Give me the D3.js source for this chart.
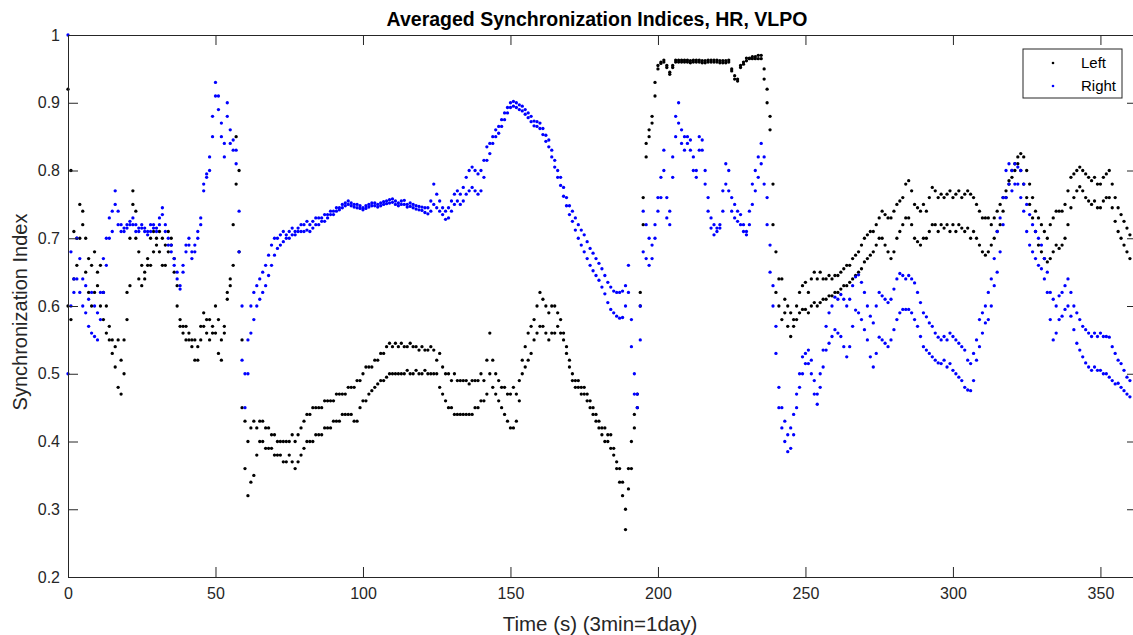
<!DOCTYPE html>
<html>
<head>
<meta charset="utf-8">
<script src="https://cdn.jsdelivr.net/npm/d3@7"></script>
<style>
  body { margin: 0; background: #fff; }
  text { font-family: "Liberation Sans", Arial, sans-serif; }
</style>
</head>
<body>
<svg id="chart" width="1133" height="635"></svg>
<script>
// sample times (s), one reading per second
const time = d3.range(0, 361);

const xTicks = [0, 50, 100, 150, 200, 250, 300, 350];
const yTicks = [0.2, 0.3, 0.4, 0.5, 0.6, 0.7, 0.8, 0.9, 1];

// Left hemisphere, two averaged traces
const leftA = [
  0.92,0.80,0.71,0.70,0.75,0.74,0.70,0.67,0.66,0.68,
  0.65,0.66,0.62,0.60,0.57,0.55,0.54,0.55,0.52,0.55,
  0.62,0.70,0.77,0.74,0.68,0.66,0.64,0.66,0.70,0.71,
  0.70,0.71,0.70,0.69,0.71,0.70,0.67,0.63,0.58,0.57,
  0.57,0.56,0.55,0.55,0.54,0.57,0.59,0.58,0.58,0.57,
  0.60,0.58,0.55,0.57,0.62,0.64,0.72,0.85,0.80,0.55,
  0.43,0.40,0.42,0.43,0.42,0.43,0.43,0.42,0.42,0.41,
  0.41,0.40,0.40,0.40,0.40,0.40,0.41,0.40,0.41,0.42,
  0.43,0.44,0.44,0.45,0.45,0.45,0.45,0.46,0.46,0.46,
  0.46,0.47,0.47,0.47,0.47,0.48,0.48,0.48,0.49,0.49,
  0.50,0.51,0.51,0.51,0.52,0.52,0.53,0.53,0.54,0.545,
  0.54,0.545,0.54,0.545,0.54,0.54,0.545,0.54,0.54,0.535,
  0.54,0.535,0.535,0.54,0.535,0.52,0.53,0.51,0.50,0.50,
  0.49,0.50,0.49,0.49,0.49,0.49,0.485,0.49,0.49,0.49,
  0.50,0.49,0.52,0.56,0.52,0.50,0.49,0.48,0.48,0.47,
  0.47,0.48,0.47,0.49,0.52,0.54,0.56,0.57,0.58,0.60,
  0.62,0.61,0.60,0.59,0.60,0.60,0.59,0.58,0.56,0.54,
  0.52,0.50,0.49,0.49,0.48,0.48,0.47,0.46,0.45,0.44,
  0.43,0.42,0.42,0.41,0.41,0.39,0.37,0.36,0.34,0.30,
  0.36,0.40,0.44,0.47,0.62,0.76,0.84,0.86,0.88,0.93,
  0.955,0.96,0.963,0.955,0.945,0.955,0.963,0.963,0.963,0.963,
  0.963,0.962,0.963,0.963,0.963,0.962,0.962,0.963,0.963,0.963,
  0.963,0.962,0.962,0.962,0.963,0.95,0.94,0.935,0.955,0.96,
  0.966,0.966,0.968,0.968,0.97,0.97,0.95,0.92,0.88,0.78,
  0.68,0.64,0.64,0.61,0.60,0.59,0.58,0.60,0.62,0.63,
  0.635,0.62,0.64,0.65,0.64,0.65,0.64,0.64,0.645,0.64,
  0.645,0.645,0.65,0.655,0.66,0.66,0.67,0.675,0.68,0.69,
  0.70,0.705,0.71,0.71,0.72,0.73,0.74,0.735,0.73,0.73,
  0.74,0.75,0.755,0.76,0.78,0.785,0.77,0.75,0.745,0.74,
  0.75,0.74,0.76,0.775,0.77,0.76,0.765,0.76,0.765,0.77,
  0.76,0.765,0.77,0.76,0.765,0.77,0.765,0.76,0.75,0.74,
  0.73,0.73,0.73,0.72,0.73,0.74,0.75,0.76,0.77,0.785,
  0.80,0.81,0.82,0.825,0.82,0.80,0.78,0.76,0.74,0.73,
  0.72,0.71,0.70,0.72,0.73,0.74,0.74,0.74,0.75,0.77,
  0.79,0.795,0.80,0.805,0.80,0.795,0.79,0.785,0.79,0.78,
  0.78,0.79,0.795,0.80,0.78,0.76,0.745,0.735,0.725,0.715,0.705
];
const leftB = [
  0.60,0.58,0.64,0.66,0.70,0.72,0.65,0.62,0.60,0.62,
  0.63,0.60,0.58,0.56,0.55,0.53,0.51,0.48,0.47,0.50,
  0.58,0.63,0.75,0.70,0.64,0.63,0.65,0.67,0.66,0.68,
  0.69,0.68,0.66,0.66,0.68,0.69,0.65,0.60,0.57,0.56,
  0.55,0.55,0.54,0.52,0.52,0.55,0.57,0.56,0.55,0.56,
  0.56,0.53,0.52,0.56,0.61,0.63,0.66,0.78,0.68,0.45,
  0.36,0.32,0.34,0.35,0.38,0.40,0.40,0.39,0.39,0.39,
  0.38,0.38,0.38,0.37,0.37,0.38,0.37,0.36,0.37,0.38,
  0.39,0.40,0.40,0.40,0.41,0.41,0.41,0.42,0.42,0.42,
  0.43,0.43,0.43,0.44,0.44,0.44,0.44,0.43,0.43,0.45,
  0.46,0.46,0.47,0.475,0.48,0.485,0.49,0.49,0.495,0.50,
  0.50,0.50,0.50,0.50,0.50,0.505,0.50,0.50,0.505,0.50,
  0.50,0.505,0.50,0.50,0.50,0.50,0.48,0.47,0.46,0.45,
  0.45,0.44,0.44,0.44,0.44,0.44,0.44,0.44,0.45,0.45,
  0.46,0.46,0.47,0.50,0.48,0.47,0.46,0.45,0.44,0.43,
  0.42,0.42,0.43,0.46,0.50,0.51,0.52,0.53,0.55,0.56,
  0.57,0.57,0.56,0.55,0.56,0.56,0.57,0.56,0.55,0.53,
  0.51,0.49,0.48,0.48,0.47,0.47,0.46,0.45,0.44,0.43,
  0.42,0.41,0.40,0.40,0.39,0.38,0.36,0.34,0.32,0.27,
  0.33,0.36,0.42,0.45,0.60,0.72,0.82,0.85,0.87,0.91,
  0.95,0.958,0.96,0.952,0.942,0.952,0.96,0.96,0.96,0.96,
  0.96,0.959,0.96,0.96,0.96,0.959,0.959,0.96,0.96,0.96,
  0.96,0.959,0.959,0.959,0.96,0.947,0.935,0.932,0.952,0.957,
  0.962,0.965,0.965,0.965,0.965,0.965,0.935,0.90,0.86,0.72,
  0.62,0.60,0.58,0.59,0.57,0.555,0.57,0.58,0.59,0.595,
  0.595,0.59,0.60,0.605,0.60,0.605,0.61,0.61,0.615,0.615,
  0.62,0.62,0.625,0.63,0.63,0.635,0.64,0.645,0.65,0.655,
  0.665,0.67,0.675,0.68,0.69,0.70,0.70,0.69,0.68,0.67,
  0.68,0.70,0.71,0.72,0.73,0.73,0.72,0.70,0.695,0.69,
  0.70,0.70,0.71,0.72,0.72,0.71,0.72,0.715,0.72,0.71,
  0.72,0.71,0.72,0.715,0.71,0.715,0.70,0.71,0.70,0.69,
  0.68,0.675,0.68,0.69,0.70,0.71,0.72,0.74,0.76,0.78,
  0.79,0.80,0.81,0.80,0.78,0.76,0.75,0.73,0.71,0.69,
  0.68,0.67,0.665,0.67,0.68,0.69,0.685,0.69,0.70,0.72,
  0.745,0.76,0.77,0.776,0.77,0.76,0.755,0.75,0.755,0.745,
  0.745,0.755,0.76,0.76,0.745,0.725,0.71,0.70,0.69,0.68,0.67
];

// Right hemisphere, two averaged traces
const rightA = [
  1.00,0.68,0.64,0.70,0.67,0.64,0.63,0.61,0.62,0.60,
  0.59,0.62,0.67,0.70,0.73,0.74,0.77,0.74,0.72,0.715,
  0.72,0.725,0.73,0.72,0.715,0.72,0.715,0.71,0.72,0.72,
  0.715,0.73,0.745,0.72,0.70,0.69,0.67,0.65,0.63,0.66,
  0.69,0.70,0.68,0.69,0.71,0.73,0.78,0.795,0.82,0.88,
  0.93,0.91,0.87,0.84,0.90,0.86,0.845,0.83,0.74,0.60,
  0.50,0.55,0.60,0.62,0.63,0.64,0.65,0.66,0.675,0.69,
  0.70,0.70,0.705,0.71,0.705,0.71,0.715,0.71,0.715,0.72,
  0.72,0.725,0.72,0.725,0.73,0.73,0.73,0.735,0.735,0.74,
  0.74,0.745,0.745,0.75,0.752,0.755,0.752,0.75,0.75,0.748,
  0.745,0.748,0.75,0.752,0.752,0.75,0.752,0.754,0.755,0.757,
  0.758,0.755,0.752,0.755,0.756,0.75,0.752,0.75,0.748,0.747,
  0.746,0.745,0.745,0.755,0.78,0.765,0.755,0.745,0.74,0.745,
  0.755,0.765,0.77,0.765,0.775,0.79,0.80,0.805,0.80,0.795,
  0.80,0.815,0.835,0.84,0.85,0.86,0.865,0.875,0.885,0.893,
  0.90,0.902,0.90,0.897,0.895,0.89,0.885,0.88,0.873,0.872,
  0.87,0.862,0.852,0.845,0.83,0.815,0.80,0.79,0.775,0.76,
  0.748,0.74,0.73,0.72,0.712,0.705,0.695,0.685,0.678,0.67,
  0.663,0.655,0.645,0.635,0.628,0.622,0.62,0.62,0.622,0.63,
  0.66,0.58,0.50,0.47,0.60,0.74,0.72,0.70,0.69,0.72,
  0.76,0.79,0.83,0.76,0.74,0.82,0.88,0.90,0.86,0.85,
  0.85,0.845,0.82,0.80,0.85,0.845,0.80,0.76,0.73,0.72,
  0.715,0.72,0.77,0.81,0.80,0.76,0.75,0.74,0.735,0.72,
  0.71,0.74,0.78,0.80,0.82,0.84,0.82,0.76,0.69,0.63,
  0.57,0.48,0.45,0.43,0.41,0.42,0.44,0.47,0.50,0.525,
  0.53,0.535,0.52,0.49,0.47,0.50,0.535,0.57,0.59,0.60,
  0.613,0.61,0.617,0.61,0.60,0.61,0.63,0.643,0.646,0.635,
  0.62,0.60,0.585,0.575,0.60,0.62,0.615,0.61,0.605,0.61,
  0.625,0.64,0.648,0.645,0.64,0.645,0.64,0.634,0.62,0.605,
  0.59,0.584,0.575,0.57,0.56,0.554,0.55,0.555,0.55,0.56,
  0.555,0.55,0.545,0.54,0.535,0.52,0.515,0.53,0.55,0.58,
  0.59,0.60,0.62,0.64,0.67,0.71,0.73,0.76,0.80,0.81,
  0.80,0.81,0.805,0.80,0.78,0.75,0.735,0.72,0.71,0.70,
  0.69,0.67,0.65,0.62,0.61,0.60,0.615,0.62,0.63,0.64,
  0.62,0.60,0.59,0.58,0.57,0.565,0.56,0.555,0.56,0.555,
  0.56,0.555,0.555,0.554,0.54,0.53,0.52,0.515,0.505,0.495,0.49
];
const rightB = [
  0.50,0.60,0.62,0.64,0.62,0.60,0.59,0.57,0.56,0.555,
  0.55,0.58,0.62,0.66,0.70,0.71,0.75,0.72,0.71,0.71,
  0.715,0.72,0.72,0.71,0.71,0.715,0.71,0.705,0.71,0.715,
  0.71,0.72,0.735,0.71,0.69,0.68,0.66,0.64,0.625,0.65,
  0.68,0.69,0.67,0.68,0.70,0.72,0.77,0.79,0.80,0.85,
  0.91,0.89,0.85,0.82,0.88,0.84,0.83,0.81,0.68,0.52,
  0.45,0.50,0.56,0.58,0.60,0.61,0.62,0.63,0.645,0.66,
  0.675,0.685,0.69,0.695,0.70,0.70,0.705,0.705,0.71,0.71,
  0.71,0.712,0.71,0.715,0.72,0.72,0.725,0.725,0.73,0.735,
  0.735,0.74,0.742,0.745,0.748,0.75,0.748,0.746,0.745,0.744,
  0.742,0.744,0.746,0.748,0.748,0.746,0.748,0.75,0.751,0.752,
  0.753,0.75,0.748,0.75,0.75,0.746,0.747,0.745,0.743,0.742,
  0.741,0.738,0.736,0.74,0.75,0.745,0.74,0.735,0.728,0.73,
  0.74,0.75,0.755,0.75,0.755,0.765,0.77,0.775,0.77,0.765,
  0.77,0.79,0.815,0.825,0.84,0.85,0.855,0.865,0.875,0.885,
  0.893,0.895,0.893,0.89,0.888,0.883,0.878,0.872,0.866,0.865,
  0.862,0.853,0.843,0.835,0.82,0.805,0.79,0.778,0.762,0.748,
  0.735,0.725,0.712,0.70,0.69,0.68,0.67,0.66,0.652,0.645,
  0.638,0.628,0.618,0.605,0.595,0.59,0.585,0.582,0.583,0.60,
  0.62,0.54,0.47,0.45,0.55,0.68,0.67,0.66,0.67,0.70,
  0.74,0.76,0.80,0.73,0.72,0.79,0.85,0.87,0.84,0.83,
  0.84,0.83,0.80,0.79,0.83,0.83,0.78,0.74,0.715,0.705,
  0.71,0.715,0.74,0.78,0.77,0.74,0.73,0.725,0.72,0.71,
  0.705,0.72,0.75,0.77,0.79,0.81,0.78,0.72,0.65,0.60,
  0.53,0.45,0.42,0.40,0.385,0.39,0.41,0.45,0.48,0.50,
  0.515,0.515,0.50,0.47,0.455,0.48,0.51,0.535,0.545,0.555,
  0.565,0.56,0.555,0.54,0.525,0.54,0.57,0.594,0.59,0.58,
  0.565,0.55,0.525,0.51,0.53,0.554,0.55,0.545,0.54,0.55,
  0.565,0.58,0.59,0.595,0.595,0.595,0.59,0.58,0.57,0.555,
  0.54,0.535,0.53,0.525,0.52,0.516,0.515,0.52,0.51,0.515,
  0.505,0.50,0.495,0.49,0.48,0.476,0.475,0.49,0.52,0.54,
  0.56,0.575,0.58,0.60,0.63,0.65,0.68,0.72,0.76,0.78,
  0.77,0.78,0.78,0.76,0.74,0.71,0.69,0.68,0.67,0.66,
  0.655,0.64,0.62,0.58,0.55,0.56,0.58,0.585,0.595,0.60,
  0.585,0.565,0.545,0.535,0.525,0.516,0.51,0.505,0.51,0.505,
  0.505,0.50,0.50,0.495,0.49,0.485,0.486,0.48,0.475,0.47,0.466
];

const series = [
  { name: "Left", color: "#000000", traces: [leftA, leftB] },
  { name: "Right", color: "#0000ff", traces: [rightA, rightB] }
];

const svg = d3.select("#chart");
const axisColor = "#262626";

// plot box (the right edge of the axes sits just outside the picture)
const plotL = 68, plotT = 35, plotR = 1137, plotB = 577;

const x = d3.scaleLinear().domain([0, 362.4]).range([plotL, plotR]);
const y = d3.scaleLinear().domain([0.2, 1]).range([plotB, plotT]);

// dots
series.forEach(s => {
  s.traces.forEach(vals => {
    svg.append("g")
      .attr("fill", s.color)
      .selectAll("circle")
      .data(vals.map((v, i) => [time[i], v]))
      .join("circle")
      .attr("cx", d => x(d[0]))
      .attr("cy", d => y(d[1]))
      .attr("r", 1.65);
  });
});

// axes, ticks inward like matlab
const gx = svg.append("g")
  .attr("transform", `translate(0,${plotB})`)
  .call(d3.axisBottom(x).tickValues(xTicks).tickSizeInner(-10).tickSizeOuter(0).tickPadding(8));
const gy = svg.append("g")
  .attr("transform", `translate(${plotL},0)`)
  .call(d3.axisLeft(y).tickValues(yTicks).tickFormat(d3.format("~g")).tickSizeInner(-10).tickSizeOuter(0).tickPadding(8));
const gt = svg.append("g")
  .attr("transform", `translate(0,${plotT})`)
  .call(d3.axisTop(x).tickValues(xTicks).tickFormat("").tickSizeInner(-10).tickSizeOuter(0));
const gr = svg.append("g")
  .attr("transform", `translate(${plotR},0)`)
  .call(d3.axisRight(y).tickValues(yTicks).tickFormat("").tickSizeInner(-10).tickSizeOuter(0));

[gx, gy, gt, gr].forEach(g => {
  g.selectAll("path, line").attr("stroke", axisColor);
  g.selectAll("text").attr("fill", axisColor).style("font-size", "16px");
  g.attr("font-family", null);
});
gx.selectAll("text").attr("dy", "0.85em");

// title and labels
svg.append("text")
  .attr("x", 597).attr("y", 26)
  .attr("text-anchor", "middle")
  .attr("font-weight", "bold")
  .attr("font-size", 19.5)
  .attr("fill", "#000")
  .text("Averaged Synchronization Indices, HR, VLPO");

svg.append("text")
  .attr("x", 600).attr("y", 631)
  .attr("text-anchor", "middle")
  .attr("font-size", 20.5)
  .attr("fill", axisColor)
  .text("Time (s) (3min=1day)");

svg.append("text")
  .attr("transform", `translate(27,${(plotT + plotB) / 2 + 6}) rotate(-90)`)
  .attr("text-anchor", "middle")
  .attr("font-size", 20)
  .attr("fill", axisColor)
  .text("Synchronization Index");

// legend
const lg = svg.append("g").attr("transform", "translate(1023,49)");
lg.append("rect")
  .attr("width", 99).attr("height", 49)
  .attr("fill", "#fff").attr("stroke", axisColor).attr("stroke-width", 1);
series.forEach((s, i) => {
  lg.append("circle")
    .attr("cx", 30).attr("cy", 14 + i * 23).attr("r", 1.3)
    .attr("fill", s.color);
  lg.append("text")
    .attr("x", 58).attr("y", 19 + i * 23)
    .attr("font-size", 15)
    .attr("fill", "#000")
    .text(s.name);
});
</script>
</body>
</html>
